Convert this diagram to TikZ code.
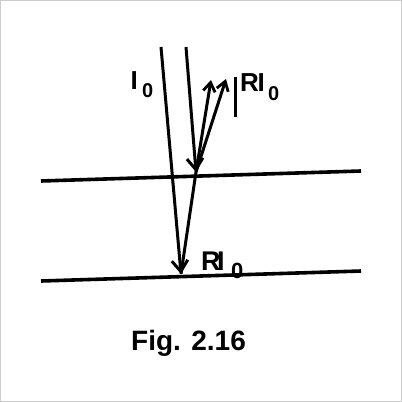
\documentclass[tikz,border=0pt]{standalone}
\usepackage{fontspec}
\setmainfont{Liberation Sans}
\usetikzlibrary{arrows.meta}
\begin{document}
\begin{tikzpicture}[x=1pt,y=-1pt,
  ray/.style={line width=3pt},
  surf/.style={line width=3.6pt},
  bigarrow/.style={-{Straight Barb[length=11pt,width=16pt,line width=3pt]}},
  smallarrow/.style={-{Straight Barb[length=9pt,width=12pt,line width=2.8pt]}},
  lbl/.style={inner sep=0pt,anchor=base west,font=\bfseries}]
\useasboundingbox (0,0) rectangle (402,402);
\draw[gray!40,line width=1pt] (0.5,0.5) rectangle (401.5,401.5);
% surfaces
\coordinate (s1a) at (41,181);
\coordinate (s1b) at (361,171);
\coordinate (s2a) at (41,281);
\coordinate (s2b) at (361,271);
\draw[surf] (s1a) -- (s1b);
\draw[surf] (s2a) -- (s2b);
% rays
\coordinate (tl) at (161,47);
\coordinate (tr) at (186,47);
\coordinate (P) at (196,172);
\coordinate (B) at (181,274);
\coordinate (r1) at (211,80);
\coordinate (r2) at (226,79);
\draw[ray,bigarrow] (tl) -- (B);
\draw[ray,bigarrow] (tr) -- (P);
\draw[ray] (P) -- (B);
\draw[ray,smallarrow] (P) -- (r1);
\draw[ray,smallarrow] (P) -- (r2);
% vertical bar
\coordinate (v1) at (235.5,77);
\coordinate (v2) at (235.5,117);
\draw[line width=3pt] (v1) -- (v2);
% labels
\node[lbl,font=\fontsize{26}{26}\selectfont\bfseries] (I) at (130.5,89) {I};
\node[lbl,font=\fontsize{20}{20}\selectfont\bfseries] (Isub) at (142,97) {0};
\node[lbl,font=\fontsize{26}{26}\selectfont\bfseries] (R1) at (240,91) {R};
\node[lbl,font=\fontsize{26}{26}\selectfont\bfseries] (I1) at (257.5,91) {I};
\node[lbl,font=\fontsize{20}{20}\selectfont\bfseries] (s1) at (268,100) {0};
\node[lbl,font=\fontsize{27}{27}\selectfont\bfseries] (R2) at (201,270) {R};
\node[lbl,font=\fontsize{27}{27}\selectfont\bfseries] (I2) at (217,270) {I};
\node[lbl,font=\fontsize{22}{22}\selectfont\bfseries] (s2) at (231,278) {0};
\node[lbl,font=\fontsize{28}{28}\selectfont\bfseries] (fig) at (131,350) {Fig. 2.16};
\end{tikzpicture}
\end{document}
